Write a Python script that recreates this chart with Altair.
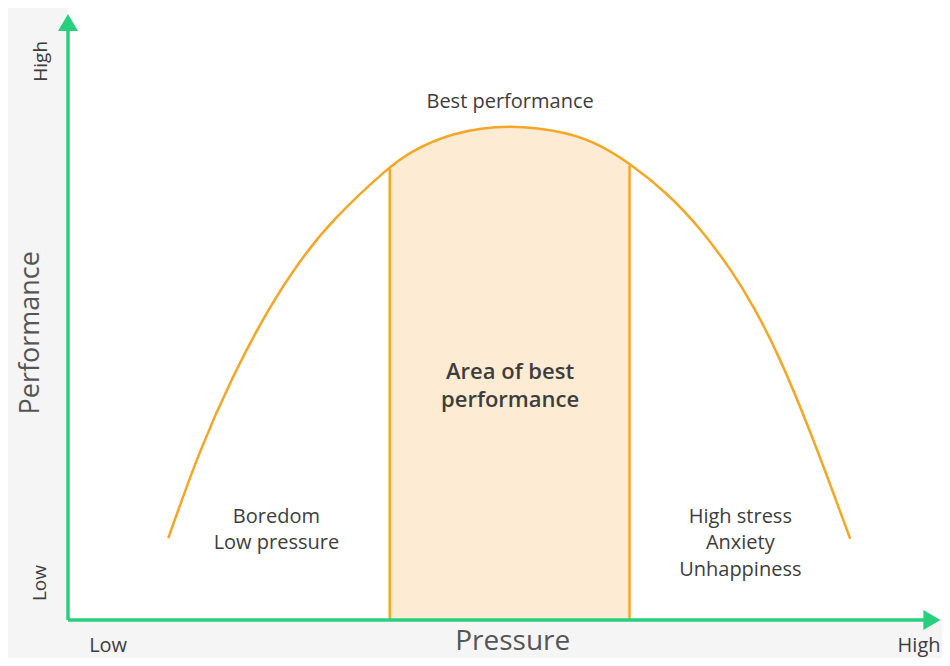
import altair as alt
import pandas as pd

# Curve (pressure vs performance, 0-100 scale)
pressure = [11.5, 15.1, 18.9, 22.8, 26.6, 30.4, 36.9, 39.2, 43.8, 50.7,
            57.6, 61.0, 64.4, 68.7, 72.5, 76.3, 78.6, 81.3, 85.1, 89.7]
performance = [13.5, 28.1, 40.3, 51.0, 59.4, 66.2, 74.9, 77.2, 80.4, 81.9,
               80.4, 78.4, 75.4, 70.5, 64.7, 57.3, 51.8, 44.4, 31.4, 13.4]
zone_bounds = [36.9, 64.4]
zone_tops = [74.5, 75.0]

inner_labels = ["Best performance", "Area of best\nperformance",
                "Boredom\nLow pressure", "High stress\nAnxiety\nUnhappiness"]
inner_x = [50.7, 50.7, 23.9, 77.1]
inner_y = [85.5, 40.9, 17.0, 17.0]

y_tick_labels = ["High", "Low"]
y_tick_pos = [92.2, 6.1]
x_tick_labels = ["Low", "High"]
x_tick_pos = [4.6, 97.6]

GREEN = "#27d07c"
ORANGE = "#f5a626"
SHADE = "#fdebd3"
TEXT = "#3d3d3d"
FONT = "Open Sans"
INTERP = "basis"

curve = pd.DataFrame({"pressure": pressure, "performance": performance})
bounds = pd.DataFrame({"pressure": zone_bounds, "top": zone_tops, "base": [0, 0]})
outside = pd.DataFrame({"x": [0, zone_bounds[1]], "x2": [zone_bounds[0], 100.23],
                        "y": [0, 0], "y2": [101, 101]})

xs = alt.Scale(domain=[0, 100.23], nice=False, zero=False)
ys = alt.Scale(domain=[0, 101], nice=False, zero=False)
X = lambda f: alt.X(f, type="quantitative", scale=xs, axis=None)
Y = lambda f: alt.Y(f, type="quantitative", scale=ys, axis=None)

area = alt.Chart(curve).mark_area(color=SHADE, interpolate=INTERP).encode(
    x=X("pressure"), y=Y("performance"), y2=alt.datum(0))
# white cover outside the best-performance zone, so the shade sits only between the bounds
cover = alt.Chart(outside).mark_rect(color="white").encode(
    x=X("x"), x2="x2", y=Y("y"), y2="y2")

vlines = alt.Chart(bounds).mark_rule(color=ORANGE, strokeWidth=2.5).encode(
    x=X("pressure"), y=Y("base"), y2="top")

line = alt.Chart(curve).mark_line(color=ORANGE, strokeWidth=2.5, interpolate=INTERP).encode(
    x=X("pressure"), y=Y("performance"))

axes_df = pd.DataFrame({"x": [0, 0], "x2": [0, 98.5], "y": [0, 0], "y2": [97.5, 0]})
axes = alt.Chart(axes_df).mark_rule(color=GREEN, strokeWidth=3.5).encode(
    x=X("x"), x2="x2", y=Y("y"), y2="y2")

up_arrow = alt.Chart(pd.DataFrame({"x": [0], "y": [98.35]})).mark_point(
    shape="M0,-1L1,0.7L-1,0.7Z", filled=True, opacity=1, color=GREEN, size=400).encode(
    x=X("x"), y=Y("y"))
right_arrow = alt.Chart(pd.DataFrame({"x": [98.9], "y": [0]})).mark_point(
    shape="M1,0L-0.7,1L-0.7,-1Z", filled=True, opacity=1, color=GREEN, size=400).encode(
    x=X("x"), y=Y("y"))

inner = pd.DataFrame({"label": inner_labels, "x": inner_x, "y": inner_y})
text_best = alt.Chart(inner.iloc[[0]]).mark_text(
    font=FONT, fontSize=20, color=TEXT, fontWeight=500).encode(
    x=X("x"), y=Y("y"), text="label")
text_area = alt.Chart(inner.iloc[[1]]).mark_text(
    font=FONT, fontSize=22, color=TEXT, fontWeight=600, lineBreak="\n", lineHeight=28).encode(
    x=X("x"), y=Y("y"), text="label")
text_sides = alt.Chart(inner.iloc[[2, 3]]).mark_text(
    font=FONT, fontSize=20, color=TEXT, fontWeight=500, lineBreak="\n", lineHeight=26.5).encode(
    x=X("x"), y=Y("y"), text="label")

yt = pd.DataFrame({"label": y_tick_labels, "y": y_tick_pos, "x": [-3.1, -3.2]})
y_ticks = alt.Chart(yt).mark_text(font=FONT, fontSize=19, color=TEXT, fontWeight=500, angle=270).encode(
    x=X("x"), y=Y("y"), text="label")
xt = pd.DataFrame({"label": x_tick_labels, "x": x_tick_pos, "y": [-5.3, -5.3]})
x_ticks = alt.Chart(xt).mark_text(font=FONT, fontSize=20, color=TEXT, fontWeight=500,
                                  baseline="alphabetic").encode(
    x=X("x"), y=Y("y"), text="label")

y_title = alt.Chart(pd.DataFrame({"label": ["Performance"], "x": [-4.25], "y": [47.4]})).mark_text(
    font=FONT, fontSize=27, color="#555555", angle=270).encode(x=X("x"), y=Y("y"), text="label")
x_title = alt.Chart(pd.DataFrame({"label": ["Pressure"], "x": [51.0], "y": [-4.95]})).mark_text(
    font=FONT, fontSize=28, color="#555555", baseline="alphabetic").encode(
    x=X("x"), y=Y("y"), text="label")

chart = alt.layer(area, cover, vlines, line, axes, up_arrow, right_arrow, text_best, text_area,
                  text_sides, y_ticks, x_ticks, y_title, x_title).properties(
    width=874, height=612, autosize="none",
    padding={"left": 60, "top": 0, "right": 0, "bottom": 38},
    background="#f5f5f5",
).configure_view(fill="white", strokeWidth=0)

chart.save("out.html", embed_options={"renderer": "svg", "actions": False})
